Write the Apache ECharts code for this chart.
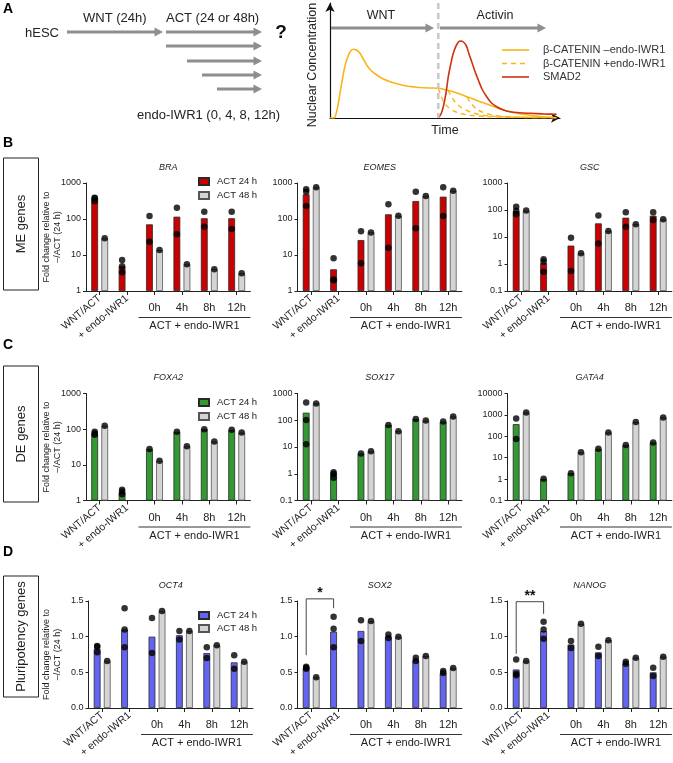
<!DOCTYPE html>
<html><head><meta charset="utf-8">
<script src="https://cdn.jsdelivr.net/npm/echarts@6/dist/echarts.min.js"></script>
<style>html,body{margin:0;padding:0;background:#fff}#c{width:673px;height:763px}</style>
</head><body><div id="c"></div>
<script>
// ---------- categories / labels ----------
const categories = ['WNT/ACT', '+ endo-IWR1', '0h', '4h', '8h', '12h'];
const groupLabel = 'ACT + endo-IWR1';
const legendLabels = ['ACT 24 h', 'ACT 48 h'];
const curveNames = ['\u03B2-CATENIN \u2013endo-IWR1', '\u03B2-CATENIN +endo-IWR1', 'SMAD2'];
const rowNames = ['ME genes', 'DE genes', 'Pluripotency genes'];
const yTitle = 'Fold change relative to\n\u2013/ACT (24 h)';

// ---------- panel A schematic curves (time, nuclear concentration) ----------
const curveBetaMinus = [[0,0],[4,0],[7,8],[9.5,22],[11.7,35],[14.5,50],[17,59],[20,66],[23.3,68.7],[26.5,68],[30,64.7],[33,59.5],[36.7,53],[41,47.5],[46.7,43],[53,39.3],[60,36.3],[68,34],[76.7,32],[85,31],[93.3,30.3],[100,30],[108.3,29.7],[115,28.3],[123.3,26.3],[131,23.5],[140,20.3],[148,17],[156.7,14],[165,11],[173.3,8],[183,5.5],[193.3,3.7],[203,2.3],[213.3,1.3],[226.7,0.3]];
const curveBetaPlusA = [[108.3,29.7],[110,25],[112,19.5],[115,14],[119,10],[125,6.5],[132,4.2],[140,2.8],[155,1.5],[175,0.8],[200,0.5],[226,0.3]];
const curveBetaPlusB = [[118,27.8],[120,24],[123,19],[127,14],[132,10],[139,6.5],[147,4],[158,2.2],[175,1.1],[200,0.6],[226,0.3]];
const curveBetaPlusC = [[137,21],[139,17.5],[142,13.5],[146,9.5],[151,6.5],[158,4],[167,2.3],[180,1.2],[200,0.6],[226,0.3]];
const curveSmad2 = [[108.3,0],[111,4],[113.3,11.3],[116,25],[118.3,41.3],[121,55],[123.3,64.7],[126.5,73],[130,77],[133.5,76],[136.7,71.3],[139,64],[141.7,56.3],[145,46.5],[148.3,38],[152,29],[156.7,21.3],[161,15.5],[166.7,11.3],[173,8.3],[180,6.3],[190,5.2],[200,4.7],[213,4.1],[226.7,3.7]];

// ---------- B: ME genes ----------
const braBar24 = [380, 4.9, 71, 116, 105, 105];
const braBar48 = [29, null, 13.7, 5.5, 4.0, 3.1];
const braDots24 = [[310, 390, 375], [7.3, 4.9, 3.3], [121, 23.5], [205, 37.6], [160, 61], [160, 53]];
const braDots48 = [[29], [], [13.7], [5.5], [4.0], [3.1]];

const eomesBar24 = [485, 4.0, 26, 135, 316, 417];
const eomesBar48 = [760, null, 42.5, 123, 435, 610];
const eomesDots24 = [[670, 575, 230], [8.1, 2.0, 2.1], [46, 5.9], [255, 16], [575, 55], [760, 121]];
const eomesDots48 = [[760], [], [42.5], [123], [435], [610]];

const gscBar24 = [91, 1.07, 4.8, 32, 52, 62];
const gscBar48 = [93, null, 2.5, 16.7, 29.7, 45];
const gscDots24 = [[132, 94, 69], [1.5, 1.2, 0.52], [9.4, 0.55], [62, 5.8], [82, 24], [82, 43]];
const gscDots48 = [[95], [], [2.5], [16.7], [29.7], [45]];

// ---------- C: DE genes ----------
const foxa2Bar24 = [75, 1.72, 28, 85, 100, 96];
const foxa2Bar48 = [124, null, 13, 33, 45, 80];
const foxa2Dots24 = [[85, 76, 70], [2.0, 1.8, 1.5], [28], [85], [100], [96]];
const foxa2Dots48 = [[124], [], [13], [33], [45], [80]];

const sox17Bar24 = [192, 1.03, 5.7, 67, 112, 89];
const sox17Bar48 = [427, null, 6.9, 39, 97, 137];
const sox17Dots24 = [[460, 103, 12.6], [1.13, 1.0, 0.71], [5.7], [67], [112], [89]];
const sox17Dots48 = [[427], [], [6.9], [39], [97], [137]];

const gata4Bar24 = [370, 1.02, 1.88, 26, 39, 52];
const gata4Bar48 = [1290, null, 17.8, 152, 460, 760];
const gata4Dots24 = [[680, 74], [1.05], [1.88], [26], [39], [52]];
const gata4Dots48 = [[1290], [], [17.8], [152], [460], [760]];

// ---------- D: pluripotency genes ----------
const oct4Bar24 = [0.83, 1.10, 1.00, 1.02, 0.77, 0.64];
const oct4Bar48 = [0.66, null, 1.36, 1.08, 0.88, 0.65];
const oct4Dots24 = [[0.87, 0.86, 0.78], [1.40, 1.10, 0.85], [1.26, 0.77], [1.08, 0.96], [0.85, 0.70], [0.74, 0.55]];
const oct4Dots48 = [[0.66], [], [1.36], [1.08], [0.88], [0.65]];

const sox2Bar24 = [0.565, 1.07, 1.08, 1.00, 0.67, 0.49];
const sox2Bar48 = [0.43, null, 1.22, 1.00, 0.73, 0.56];
const sox2Dots24 = [[0.55, 0.565, 0.58], [1.28, 1.11, 0.85], [1.23, 0.94], [1.03, 0.98], [0.66, 0.705], [0.49, 0.52]];
const sox2Dots48 = [[0.43], [], [1.22], [1.00], [0.73], [0.56]];

const nanogBar24 = [0.54, 1.08, 0.89, 0.78, 0.62, 0.50];
const nanogBar48 = [0.66, null, 1.18, 0.95, 0.705, 0.72];
const nanogDots24 = [[0.68, 0.46, 0.48], [1.21, 1.10, 0.97], [0.94, 0.84], [0.86, 0.73], [0.62, 0.65], [0.565, 0.45]];
const nanogDots48 = [[0.66], [], [1.18], [0.95], [0.705], [0.72]];

// significance brackets: [label, left leg bottom, right leg bottom, top] in data units
const sox2Sig = ['*', 0.74, 1.40, 1.53];
const nanogSig = ['**', 0.76, 1.32, 1.49];

// ---------- layout / style ----------
const FONT = '"Liberation Sans", Arial, Helvetica, sans-serif';
const rowColors = ['#CC0000', '#339933', '#6464F2'];
const grayFill = '#D4D4D4';
const rowTop = [183, 393.5, 601];
const rowH = [108, 107, 107];
const colLeft = [[86, 297.5, 507.5], [86, 297.5, 507.5], [88.5, 297.5, 507.5]];
const groupW = 27.4;

const panels = [
  {gene:'BRA', row:0, col:0, log:true, min:1, max:1000, b24:braBar24, b48:braBar48, d24:braDots24, d48:braDots48},
  {gene:'EOMES', row:0, col:1, log:true, min:1, max:1000, b24:eomesBar24, b48:eomesBar48, d24:eomesDots24, d48:eomesDots48},
  {gene:'GSC', row:0, col:2, log:true, min:0.1, max:1000, b24:gscBar24, b48:gscBar48, d24:gscDots24, d48:gscDots48},
  {gene:'FOXA2', row:1, col:0, log:true, min:1, max:1000, b24:foxa2Bar24, b48:foxa2Bar48, d24:foxa2Dots24, d48:foxa2Dots48},
  {gene:'SOX17', row:1, col:1, log:true, min:0.1, max:1000, b24:sox17Bar24, b48:sox17Bar48, d24:sox17Dots24, d48:sox17Dots48},
  {gene:'GATA4', row:1, col:2, log:true, min:0.1, max:10000, b24:gata4Bar24, b48:gata4Bar48, d24:gata4Dots24, d48:gata4Dots48},
  {gene:'OCT4', row:2, col:0, log:false, min:0, max:1.5, b24:oct4Bar24, b48:oct4Bar48, d24:oct4Dots24, d48:oct4Dots48},
  {gene:'SOX2', row:2, col:1, log:false, min:0, max:1.5, b24:sox2Bar24, b48:sox2Bar48, d24:sox2Dots24, d48:sox2Dots48, sig:sox2Sig},
  {gene:'NANOG', row:2, col:2, log:false, min:0, max:1.5, b24:nanogBar24, b48:nanogBar48, d24:nanogDots24, d48:nanogDots48, sig:nanogSig}
];

const chart = echarts.init(document.getElementById('c'), null, {renderer:'canvas', width:673, height:763});

const grids = [{left:330, top:3, width:230, height:115, outerBoundsMode:'none'}];
const hiddenAxis = {axisTick:{show:false}, axisLabel:{show:false}, splitLine:{show:false}};
const xAxes = [Object.assign({type:'value', gridIndex:0, min:0, max:230,
  axisLine:{show:true, symbol:['none','arrow'], symbolSize:[7,9], lineStyle:{color:'#111', width:1.2}}}, hiddenAxis)];
const yAxes = [Object.assign({type:'value', gridIndex:0, min:0, max:115,
  axisLine:{show:true, symbol:['none','arrow'], symbolSize:[7,9], lineStyle:{color:'#111', width:1.2}}}, hiddenAxis)];
const series = [];
const legends = [];

const yellow = '#F8B517', red = '#CC3311';
const curveStyles = [{color:yellow, width:1.6, type:'solid'}, {color:yellow, width:1.4, type:[5,4]}, {color:red, width:1.6, type:'solid'}];
series.push({type:'line', name:curveNames[0], xAxisIndex:0, yAxisIndex:0, data:curveBetaMinus, smooth:0.3, symbol:'none', lineStyle:curveStyles[0], z:3});
[curveBetaPlusA, curveBetaPlusB, curveBetaPlusC].forEach(d => {
  series.push({type:'line', name:curveNames[1], xAxisIndex:0, yAxisIndex:0, data:d, smooth:0.3, symbol:'none', lineStyle:curveStyles[1], z:3});
});
series.push({type:'line', name:curveNames[2], xAxisIndex:0, yAxisIndex:0, data:curveSmad2, smooth:0.3, symbol:'none', lineStyle:curveStyles[2], z:4});

const meta = [];
panels.forEach((p, i) => {
  const g = grids.length;
  const left = colLeft[p.row][p.col];
  grids.push({left:left, top:rowTop[p.row], width:groupW*6, height:rowH[p.row], outerBoundsMode:'none'});
  const tf = p.log ? (v => v == null ? null : Math.log10(v / p.min)) : (v => v);
  const xi = xAxes.length;
  xAxes.push({type:'category', gridIndex:g, position:'bottom', data:categories, boundaryGap:true,
    axisLine:{show:true, onZero:false, lineStyle:{color:'#222', width:1}},
    axisTick:{show:true, alignWithLabel:true, length:4, lineStyle:{color:'#222'}},
    axisLabel:{interval:0, rotate:40, fontSize:10.5, color:'#222', margin:6, fontFamily:FONT,
      formatter:(v, idx) => idx < 2 ? v : ''},
    splitLine:{show:false}});
  xAxes.push({type:'category', gridIndex:g, position:'bottom', data:categories, boundaryGap:true,
    axisLine:{show:false, onZero:false}, axisTick:{show:false},
    axisLabel:{interval:0, rotate:0, fontSize:11, color:'#222', margin:11.5, fontFamily:FONT,
      formatter:(v, idx) => idx >= 2 ? v : ''},
    splitLine:{show:false}});
  const yi = yAxes.length;
  let yAx;
  if (p.log) {
    const e0 = Math.round(Math.log10(p.min));
    const dec = Math.round(Math.log10(p.max / p.min));
    yAx = {type:'value', gridIndex:g, min:0, max:dec, interval:1,
      axisLabel:{fontSize:9, color:'#222', margin:5, fontFamily:FONT,
        formatter:v => { const e = e0 + Math.round(v); return e >= 0 ? String(Math.pow(10, e)) : '0.' + '0'.repeat(-e - 1) + '1'; }}};
  } else {
    yAx = {type:'value', gridIndex:g, min:p.min, max:p.max, interval:0.5,
      axisLabel:{fontSize:9, color:'#222', margin:5, fontFamily:FONT, formatter:v => v.toFixed(1)}};
  }
  Object.assign(yAx, {axisLine:{show:true, lineStyle:{color:'#222', width:1}},
    axisTick:{show:true, length:3, lineStyle:{color:'#222'}}, splitLine:{show:false}});
  yAxes.push(yAx);
  const k = 'p' + i;
  const color = rowColors[p.row];
  series.push({type:'bar', name:k + '_24', xAxisIndex:xi, yAxisIndex:yi, data:p.b24.map(tf), barWidth:6.8, barGap:'48%',
    itemStyle:{color:color, borderColor:'#2a2a2a', borderWidth:0.8}, z:2});
  series.push({type:'bar', name:k + '_48', xAxisIndex:xi, yAxisIndex:yi, data:p.b48.map(tf), barWidth:6.8, barGap:'48%',
    itemStyle:{color:grayFill, borderColor:'#555', borderWidth:0.8}, z:2});
  const pts24 = [], pts48 = [];
  p.d24.forEach((arr, c) => arr.forEach(v => pts24.push([c, tf(v)])));
  p.d48.forEach((arr, c) => arr.forEach(v => pts48.push([c, tf(v)])));
  series.push({type:'scatter', name:k + '_d24', xAxisIndex:xi, yAxisIndex:yi, data:pts24, symbolSize:6.5, symbolOffset:[-5, 0], itemStyle:{color:'#000'}, z:5});
  series.push({type:'scatter', name:k + '_d48', xAxisIndex:xi, yAxisIndex:yi, data:pts48, symbolSize:6.5, symbolOffset:[5, 0], itemStyle:{color:'#000'}, z:5});
  if (p.col === 0) {
    const centers = [177, 398, 611];
    legends.push({orient:'vertical', left:193, top:centers[p.row] - 5.5, itemWidth:10, itemHeight:7, itemGap:p.row === 2 ? 3 : 4,
      icon:'rect', selectedMode:false, data:[k + '_24', k + '_48'],
      formatter:n => n === k + '_24' ? legendLabels[0] : legendLabels[1],
      textStyle:{fontSize:9.5, color:'#222', fontFamily:FONT, padding:[0,0,0,3]}});
  }
  meta.push({p:p, g:g, xi:xi, yi:yi, tf:tf});
});

chart.setOption({animation:false, textStyle:{fontFamily:FONT}, grid:grids, xAxis:xAxes, yAxis:yAxes, series:series, legend:legends});

// ---------- annotations ----------
const G = [];
function txt(x, y, s, o) {
  o = o || {};
  G.push({type:'text', x:x, y:y, rotation:o.rot || 0, z:100, silent:true,
    style:{text:s, fontSize:o.fs || 12, fontFamily:FONT, fontWeight:o.bold ? 'bold' : 'normal', fontStyle:o.italic ? 'italic' : 'normal',
      fill:o.color || '#222', textAlign:o.align || 'left', align:o.align || 'left', textVerticalAlign:'middle', verticalAlign:'middle', lineHeight:o.lh || undefined}});
}
function line(x1, y1, x2, y2, o) {
  o = o || {};
  G.push({type:'line', z:100, silent:true, shape:{x1:x1, y1:y1, x2:x2, y2:y2}, style:{stroke:o.color || '#222', lineWidth:o.w || 1, lineDash:o.dash || null}});
}
function arrow(x1, x2, y) {
  const c = '#8E8E8E';
  line(x1, y, x2 - 6, y, {color:c, w:3});
  G.push({type:'polygon', z:100, silent:true, shape:{points:[[x2, y], [x2 - 8.5, y - 4.5], [x2 - 8.5, y + 4.5]]}, style:{fill:c}});
}

// Panel A left
txt(3, 9, 'A', {fs:14, bold:true, color:'#000'});
txt(83, 18, 'WNT (24h)', {fs:13});
txt(166, 18, 'ACT (24 or 48h)', {fs:13});
txt(25, 33, 'hESC', {fs:13});
arrow(67, 163, 32);
arrow(166, 262, 32);
arrow(166, 262, 46);
arrow(187, 262, 61);
arrow(202, 262, 75);
arrow(217, 262, 89);
txt(281, 33, '?', {fs:19, bold:true, align:'center', color:'#111'});
txt(137, 115, 'endo-IWR1 (0, 4, 8, 12h)', {fs:13});
// Panel A right
txt(313, 65, 'Nuclear Concentration', {fs:12.5, rot:Math.PI / 2, align:'center'});
arrow(331, 434, 28);
arrow(440, 546, 28);
txt(381, 16, 'WNT', {fs:12.5, align:'center'});
txt(495, 16, 'Activin', {fs:12.5, align:'center'});
const tAct = chart.convertToPixel({xAxisIndex:0}, 108.3);
line(tAct, 3, tAct, 118, {color:'#C8C8C8', w:2.5, dash:[6, 4]});
txt(445, 131, 'Time', {fs:12.5, align:'center'});
// Panel A legend (line keys)
const keyY = [50, 63.5, 77];
curveNames.forEach((n, j) => {
  line(502, keyY[j], 529, keyY[j], {color:curveStyles[j].color, w:curveStyles[j].width, dash:j === 1 ? [5, 4] : null});
  txt(543, keyY[j], n, {fs:11, color:'#333'});
});

// Row labels, boxes
const letterY = [143, 345, 552];
const boxes = [[158, 132], [366, 136], [576, 121]];
['B', 'C', 'D'].forEach((L, r) => {
  txt(3, letterY[r], L, {fs:14, bold:true, color:'#000'});
  G.push({type:'rect', z:100, silent:true, shape:{x:3.5, y:boxes[r][0], width:35, height:boxes[r][1]}, style:{fill:'none', stroke:'#222', lineWidth:1}});
  txt(21, boxes[r][0] + boxes[r][1] / 2, rowNames[r], {fs:13, rot:Math.PI / 2, align:'center'});
});
const titleY = [167, 377, 585];
meta.forEach(m => {
  const p = m.p;
  const x0 = chart.convertToPixel({xAxisIndex:m.xi}, 0) - groupW / 2;
  const x6 = chart.convertToPixel({xAxisIndex:m.xi}, 5) + groupW / 2;
  const yBase = chart.convertToPixel({yAxisIndex:m.yi}, p.log ? 0 : p.min);
  const yTop = chart.convertToPixel({yAxisIndex:m.yi}, p.log ? Math.round(Math.log10(p.max / p.min)) : p.max);
  txt((x0 + x6) / 2, titleY[p.row], p.gene, {fs:9, italic:true, align:'center'});
  if (p.col === 0) {
    txt(52, (yBase + yTop) / 2, yTitle, {fs:9, rot:Math.PI / 2, align:'center', lh:10.5});
  }
  const xs = chart.convertToPixel({xAxisIndex:m.xi}, 2) - 16;
  line(xs, yBase + 26.5, x6, yBase + 26.5, {color:'#333', w:1});
  txt((xs + x6) / 2, yBase + 35, groupLabel, {fs:11, align:'center'});
  if (p.sig) {
    const xl = chart.convertToPixel({xAxisIndex:m.xi}, 0) - 5;
    const xr = chart.convertToPixel({xAxisIndex:m.xi}, 1) - 5;
    const yl = chart.convertToPixel({yAxisIndex:m.yi}, p.sig[1]);
    const yr = chart.convertToPixel({yAxisIndex:m.yi}, p.sig[2]);
    const yt = chart.convertToPixel({yAxisIndex:m.yi}, p.sig[3]);
    G.push({type:'polyline', z:100, silent:true, shape:{points:[[xl, yl], [xl, yt], [xr, yt], [xr, yr]]}, style:{stroke:'#444', lineWidth:1, fill:null}});
    txt((xl + xr) / 2, yt - 6, p.sig[0], {fs:14, bold:true, align:'center', color:'#111'});
  }
});
chart.setOption({graphic:{elements:G}});
</script>
</body></html>
